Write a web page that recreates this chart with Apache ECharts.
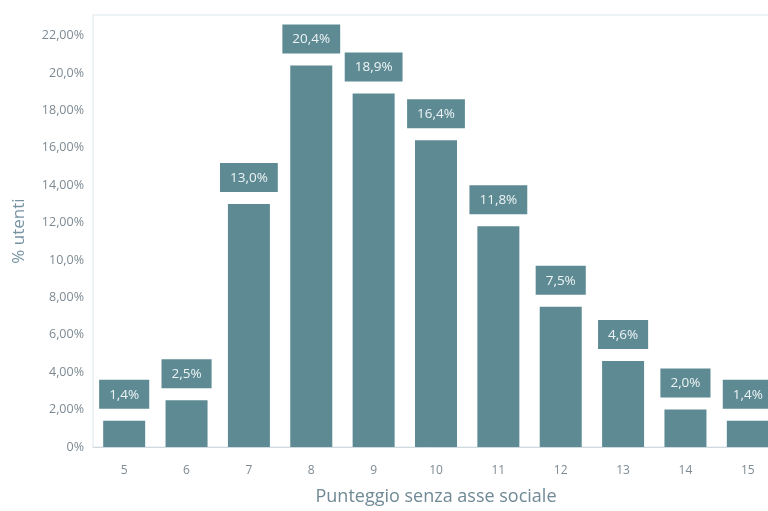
<!DOCTYPE html>
<html>
<head>
<meta charset="utf-8">
<script src="https://cdn.jsdelivr.net/npm/echarts@6/dist/echarts.min.js"></script>
<style>html,body{margin:0;padding:0;background:#fff;overflow:hidden;}#c{width:768px;height:511px;}</style>
</head>
<body>
<div id="c"></div>
<script>
var categories = ['5','6','7','8','9','10','11','12','13','14','15'];
var values = [1.4, 2.5, 13.0, 20.4, 18.9, 16.4, 11.8, 7.5, 4.6, 2.0, 1.4];
var yTickLabels = ['0%','2,00%','4,00%','6,00%','8,00%','10,0%','12,00%','14,00%','16,00%','18,00%','20,0%','22,00%'];

var barColor = '#5d8a93';
var font = '"Open Sans", "Noto Sans", sans-serif';
var chart = echarts.init(document.getElementById('c'));
chart.setOption({
  animation: false,
  grid: {left: 93, width: 686, top: 15, height: 432, outerBoundsMode: 'none', containLabel: false,
    show: true, borderColor: '#dce6ea', borderWidth: 1, backgroundColor: 'transparent'},
  xAxis: {
    type: 'category', data: categories,
    name: 'Punteggio senza asse sociale', nameLocation: 'middle', nameGap: 41,
    nameTextStyle: {color: '#6f8995', fontSize: 18, fontFamily: font},
    axisLine: {lineStyle: {color: '#cfd9de'}},
    axisTick: {show: false},
    axisLabel: {color: '#7d8a93', fontSize: 12, fontFamily: font, margin: 18}
  },
  yAxis: {
    type: 'value', min: 0, max: 23.1, interval: 2,
    name: '% utenti', nameLocation: 'middle', nameGap: 65,
    nameTextStyle: {color: '#7793a2', fontSize: 17, fontFamily: font},
    axisLine: {show: false}, axisTick: {show: false}, splitLine: {show: false},
    axisLabel: {color: '#7d8a93', fontSize: 12.5, fontFamily: font, margin: 9, showMaxLabel: false,
      formatter: function (v) { var i = Math.round(v / 2); return yTickLabels[i] || ''; }}
  },
  series: [{
    type: 'bar', data: values, barWidth: 42,
    itemStyle: {color: barColor},
    label: {
      show: true, position: 'top', distance: 12,
      backgroundColor: barColor, color: '#eef4f5', fontSize: 13.5, fontFamily: font,
      padding: [8, 10, 7, 10],
      formatter: function (p) { return p.value.toFixed(1).replace('.', ',') + '%'; }
    }
  }]
});
</script>
</body>
</html>
